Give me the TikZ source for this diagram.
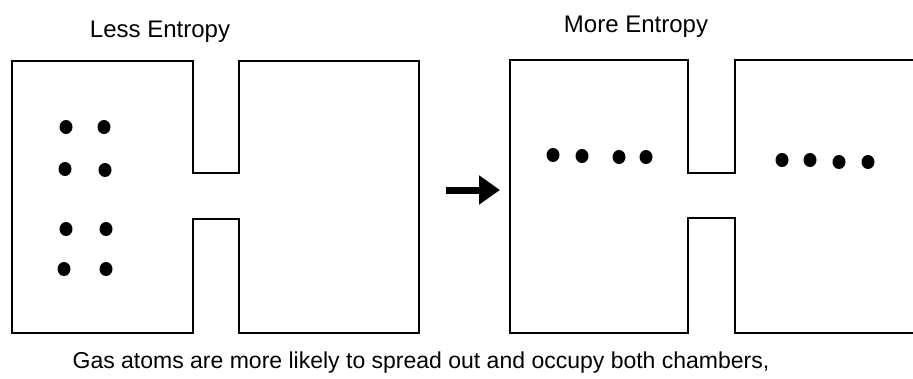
\documentclass[tikz,border=0pt]{standalone}
\usepackage{fontspec}
\setmainfont{Liberation Sans}
\usepackage{tikz}
\usetikzlibrary{positioning, arrows.meta, shapes.geometric}

\begin{document}
\begin{tikzpicture}[
  x=1pt, y=-1pt,
  font=\fontsize{23}{26}\selectfont,
  wall/.style={line width=1.9pt, line join=miter},
  atom/.style={ellipse, fill=black, minimum width=13pt, minimum height=14pt, inner sep=0pt},
  label/.style={anchor=base, inner sep=0pt},
  heading/.style={label, font=\fontsize{24}{28}\selectfont},
  arr/.style={-{Triangle[length=21pt, width=28pt]}, line width=7pt}
]
\useasboundingbox (0,0) rectangle (913,378);
\node[heading] (less) at (160,37) {Less Entropy};
\node[heading] (more) at (636,32) {More Entropy};
\node[label] (caption) at (421,368) {Gas atoms are more likely to spread out and occupy both chambers,};
% left container: all atoms in one chamber
\draw[wall] (12,61) -- (193,61) -- (193,173) -- (239,173) -- (239,61) -- (419,61)
  -- (419,333) -- (239,333) -- (239,219) -- (193,219) -- (193,333) -- (12,333) -- cycle;
\node[atom] (l1) at (66,127) {};
\node[atom] (l2) at (104,127) {};
\node[atom] (l3) at (65,169) {};
\node[atom] (l4) at (105,170) {};
\node[atom] (l5) at (66,229) {};
\node[atom] (l6) at (106,229) {};
\node[atom] (l7) at (64,269) {};
\node[atom] (l8) at (106,269) {};
% arrow
\coordinate (from) at (446,190);
\coordinate (to) at (500,190);
\draw[arr] (from) -- (to);
% right container: atoms spread over both chambers
\draw[wall] (913,60) -- (735,60) -- (735,173) -- (688,173) -- (688,60) -- (510,60)
  -- (510,333) -- (688,333) -- (688,218) -- (735,218) -- (735,333) -- (913,333);
\node[atom] (r1) at (553,155) {};
\node[atom] (r2) at (582,156) {};
\node[atom] (r3) at (619,157) {};
\node[atom] (r4) at (646,157) {};
\node[atom] (r5) at (782,160) {};
\node[atom] (r6) at (810,160) {};
\node[atom] (r7) at (839,162) {};
\node[atom] (r8) at (868,162) {};
\end{tikzpicture}
\end{document}
